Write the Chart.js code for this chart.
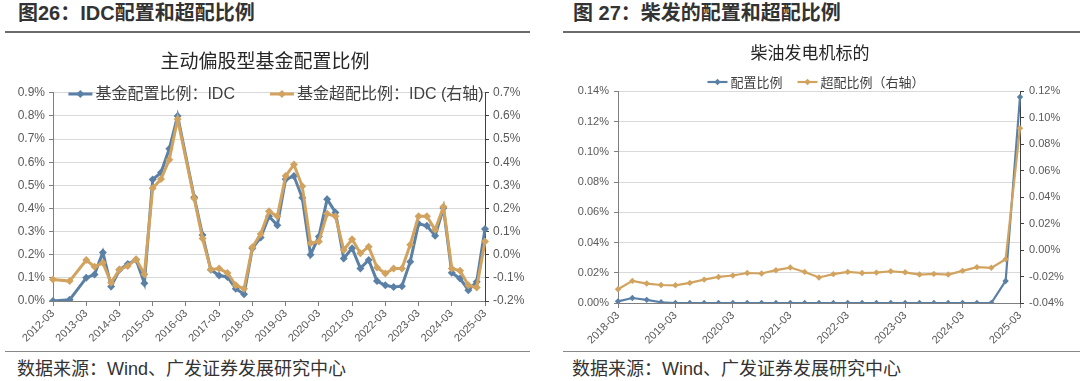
<!DOCTYPE html>
<html>
<head>
<meta charset="utf-8">
<script src="https://cdn.jsdelivr.net/npm/chart.js@4.4.1/dist/chart.umd.min.js"></script>
<style>
  body { margin:0; width:1080px; height:381px; background:#fff; position:relative; overflow:hidden;
         font-family:"Liberation Sans","Noto Sans CJK SC",sans-serif; color:#333; }
  .head { position:absolute; top:1px; font-size:20px; font-weight:bold; line-height:24px; color:#333; }
  .rule { position:absolute; height:2px; background:#6b6b6b; }
  .src { position:absolute; top:357px; font-size:18px; line-height:24px; color:#333; }
  .box { position:absolute; top:38px; height:312px; }
</style>
</head>
<body>
<div class="head" style="left:18px">图26：IDC配置和超配比例</div>
<div class="head" style="left:573px">图 27：柴发的配置和超配比例</div>
<div class="rule" style="top:31px;left:5px;width:525px"></div>
<div class="rule" style="top:31px;left:563px;width:517px"></div>

<div class="box" style="left:0;width:530px"><canvas id="idc"></canvas></div>
<div class="box" style="left:540px;width:540px"><canvas id="chaifa"></canvas></div>

<div class="rule" style="top:351px;left:5px;width:525px;height:1px;background:#888"></div>
<div class="rule" style="top:351px;left:563px;width:517px;height:1px;background:#888"></div>
<div class="src" style="left:17px">数据来源：Wind、广发证券发展研究中心</div>
<div class="src" style="left:572px">数据来源：Wind、广发证券发展研究中心</div>

<script>
// quarterly labels, yyyy-mm
function quarters(from, to) {
  const out = [];
  for (let y = from; y <= to; y++) ['03','06','09','12'].forEach(m => { if (y < to || m === '03') out.push(y + '-' + m); });
  return out;
}

// 图26: 主动偏股型基金, IDC (%)
const idcLabels = quarters(2012, 2025);
const idcWeight = [
  0.000, null, 0.005, null,
  0.100, 0.115, 0.210, 0.063,
  0.135, 0.160, 0.178, 0.077,
  0.525, 0.555, 0.658, 0.800,
  null, 0.448, 0.285, 0.135,
  0.110, 0.104, 0.053, 0.029,
  0.228, 0.275, 0.366, 0.327,
  0.526, 0.540, 0.446, 0.200,
  0.279, 0.440, 0.383, 0.184,
  0.228, 0.141, 0.177, 0.086,
  0.068, 0.061, 0.064, 0.170,
  0.334, 0.325, 0.282, 0.402,
  0.122, 0.097, 0.047, 0.083,
  0.311
];
const idcOver = [
  -0.107, null, -0.114, null,
  -0.023, -0.052, -0.035, -0.121,
  -0.064, -0.049, -0.019, -0.084,
  0.287, 0.327, 0.411, 0.586,
  null, 0.243, 0.070, -0.064,
  -0.060, -0.079, -0.132, -0.147,
  0.032, 0.090, 0.188, 0.166,
  0.340, 0.390, 0.296, 0.050,
  0.057, 0.177, 0.166, 0.021,
  0.067, 0.006, 0.035, -0.055,
  -0.081, -0.059, -0.059, 0.043,
  0.166, 0.166, 0.108, 0.207,
  -0.059, -0.069, -0.132, -0.142,
  0.057
];

// 图27: 柴油发电机标的 (%)
const chaifaLabels = quarters(2018, 2025);
const chaifaWeight = [
  0.0011, 0.0033, 0.0021, 0.0005,
  0, 0, 0, 0, 0, 0, 0, 0, 0, 0, 0, 0,
  0, 0, 0, 0, 0, 0, 0, 0, 0, 0, 0,
  0.0146, 0.1363
];
const chaifaOver = [
  -0.0296, -0.0233, -0.0253, -0.0264,
  -0.0266, -0.0248, -0.0223, -0.0203,
  -0.0192, -0.0173, -0.0177, -0.0152,
  -0.0132, -0.0165, -0.0207, -0.0182,
  -0.0165, -0.0173, -0.0170, -0.0160,
  -0.0168, -0.0185, -0.0180, -0.0185,
  -0.0157, -0.0129, -0.0134, -0.0069,
  0.0922
];

const BLUE = '#5b80a6', GOLD = '#d2a35f';

// legend drawn over the plot top, like the excel original
const inlineLegend = {
  id: 'inlineLegend',
  afterDraw(chart, args, opts) {
    const ctx = chart.ctx, sets = chart.data.datasets;
    ctx.save();
    ctx.font = opts.size + 'px "Liberation Sans","Noto Sans CJK SC",sans-serif';
    const widths = sets.map(ds => opts.line + 3 + ctx.measureText(ds.label).width);
    const total = widths.reduce((a, b) => a + b, 0) + opts.spacing * (sets.length - 1);
    let x = opts.cx - total / 2;
    sets.forEach((ds, i) => {
      ctx.strokeStyle = ds.borderColor;
      ctx.lineWidth = ds.borderWidth;
      ctx.beginPath(); ctx.moveTo(x, opts.y); ctx.lineTo(x + opts.line, opts.y); ctx.stroke();
      const r = ds.pointRadius, mx = x + opts.line / 2;
      ctx.fillStyle = ds.borderColor;
      ctx.beginPath();
      ctx.moveTo(mx, opts.y - r); ctx.lineTo(mx + r, opts.y); ctx.lineTo(mx, opts.y + r); ctx.lineTo(mx - r, opts.y);
      ctx.closePath(); ctx.fill();
      ctx.fillStyle = '#404040';
      ctx.textBaseline = 'middle';
      ctx.fillText(ds.label, x + opts.line + 3, opts.y + 1);
      x += widths[i] + opts.spacing;
    });
    ctx.restore();
  }
};

function pct(dec) {
  return v => (Math.abs(v) < 1e-9 ? 0 : v).toFixed(dec) + '%';
}

function buildChart(id, labels, series, o) {
  const yearTick = c => (c.index % 4 === 0 ? '#7f7f7f' : 'rgba(0,0,0,0)');
  return new Chart(document.getElementById(id), {
    type: 'line',
    data: {
      labels: labels,
      datasets: series.map((s, i) => ({
        label: s.label,
        data: s.data,
        yAxisID: i === 0 ? 'y' : 'y1',
        borderColor: s.color,
        backgroundColor: s.color,
        borderWidth: o.lw,
        pointStyle: 'rectRot',
        pointRadius: o.pr,
        pointBorderWidth: 0,
        pointBackgroundColor: s.color,
        spanGaps: true,
        tension: 0,
        order: i === 0 ? 1 : 0
      }))
    },
    options: {
      responsive: true,
      maintainAspectRatio: false,
      animation: false,
      layout: { padding: 0 },
      plugins: {
        legend: { display: false },
        tooltip: { enabled: false },
        title: { display: true, text: o.title, color: '#262626',
                 font: { size: o.titleSize, weight: 'normal', family: '"Noto Sans CJK SC",sans-serif' },
                 padding: { top: o.titleTop, bottom: o.titleBottom } },
        inlineLegend: o.legend
      },
      scales: {
        x: {
          offset: false,
          grid: { drawOnChartArea: false, color: yearTick, tickLength: 5 },
          border: { color: '#7f7f7f' },
          ticks: {
            autoSkip: false, maxRotation: 45, minRotation: 45, padding: 1,
            color: '#595959', font: { size: 11 },
            callback: function(v, i) { return i % 4 === 0 ? this.getLabelForValue(v) : ''; }
          },
          afterFit: s => { s.height = o.xh; }
        },
        y: {
          position: 'left', min: o.y[0], max: o.y[1],
          ticks: { stepSize: o.y[2], callback: pct(o.y[3]), color: '#595959', font: { size: o.tickSize }, padding: o.pad },
          grid: { color: '#d9d9d9', tickColor: '#7f7f7f', tickLength: 4 },
          border: { color: '#7f7f7f' },
          afterFit: s => { s.width = o.yl; }
        },
        y1: {
          position: 'right', min: o.y1[0], max: o.y1[1],
          ticks: { stepSize: o.y1[2], callback: pct(o.y1[3]), color: '#595959', font: { size: o.tickSize }, padding: o.pad },
          grid: { drawOnChartArea: false, color: '#404040', tickLength: 4 },
          border: { color: '#404040' },
          afterFit: s => { s.width = o.yr; }
        }
      }
    },
    plugins: [inlineLegend]
  });
}

Chart.defaults.font.family = '"Liberation Sans","Noto Sans CJK SC",sans-serif';

buildChart('idc', idcLabels, [
  { label: '基金配置比例：IDC', data: idcWeight, color: BLUE },
  { label: '基金超配比例：IDC (右轴)', data: idcOver, color: GOLD }
], {
  title: '主动偏股型基金配置比例', titleSize: 19, titleTop: 11, titleBottom: 21,
  legend: { cx: 276, y: 56, size: 16, line: 24, spacing: 35 },
  y: [0, 0.9, 0.1, 1], y1: [-0.2, 0.7, 0.1, 1],
  yl: 53, yr: 45, xh: 49, lw: 3, pr: 4, tickSize: 12, pad: 4
});

buildChart('chaifa', chaifaLabels, [
  { label: '配置比例', data: chaifaWeight, color: BLUE },
  { label: '超配比例（右轴）', data: chaifaOver, color: GOLD }
], {
  title: '柴油发电机标的', titleSize: 17, titleTop: 4, titleBottom: 29,
  legend: { cx: 276, y: 44, size: 13, line: 20, spacing: 15 },
  y: [0, 0.14, 0.02, 2], y1: [-0.04, 0.12, 0.02, 2],
  yl: 78, yr: 60, xh: 47, lw: 2.2, pr: 3.2, tickSize: 11, pad: 5
});
</script>
</body>
</html>
